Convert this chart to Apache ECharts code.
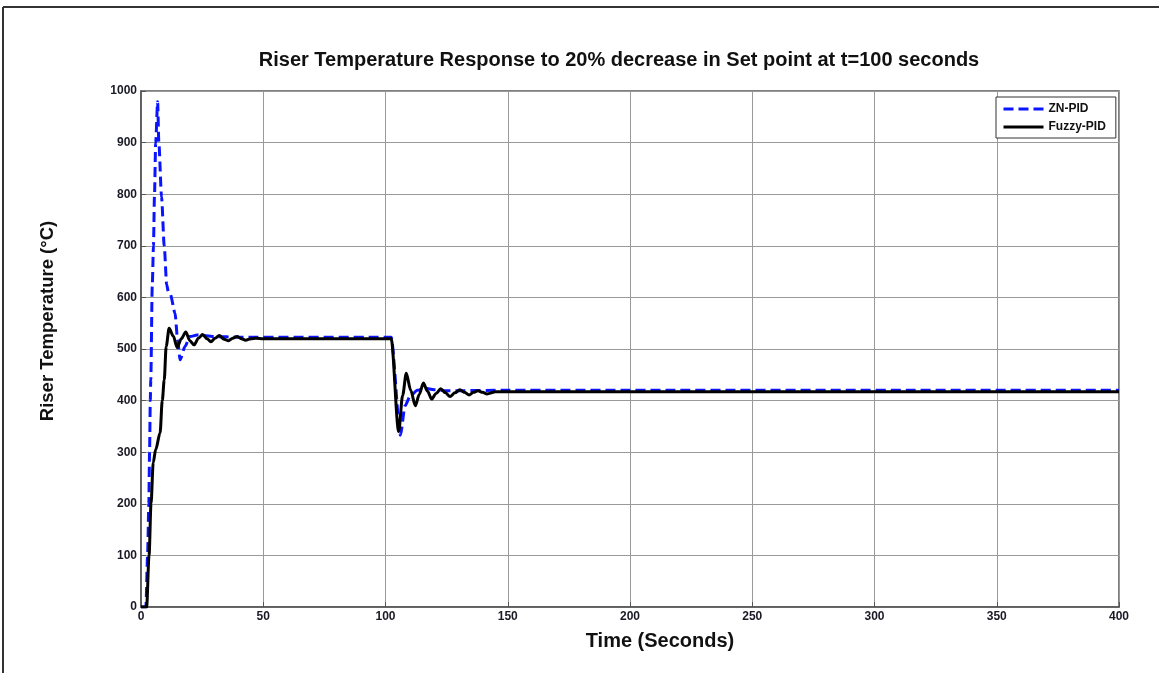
<!DOCTYPE html>
<html>
<head>
<meta charset="utf-8">
<script src="https://cdn.jsdelivr.net/npm/echarts@6/dist/echarts.min.js"></script>
<style>
html,body{margin:0;padding:0;background:#fff;}
#chart{width:1159px;height:673px;}
</style>
</head>
<body>
<div id="chart"></div>
<script>
// ---- data ----
const titleText = 'Riser Temperature Response to 20% decrease in Set point at t=100 seconds';
const xName = 'Time (Seconds)';
const yName = 'Riser Temperature (\u00B0C)';
const seriesNames = ['ZN-PID', 'Fuzzy-PID'];
const xTicks = [0, 50, 100, 150, 200, 250, 300, 350, 400];
const yTicks = [0, 100, 200, 300, 400, 500, 600, 700, 800, 900, 1000];

const znT = [0, 2.0, 2.7, 3.2, 3.5, 3.8, 4.0, 4.6, 5.1, 5.5, 6.0, 6.8, 7.3, 8.4, 9.5, 10.5, 11.2, 12.0, 13.9, 15.0, 16.0, 18.0, 20.0, 23, 30, 40, 100, 102.3, 106.1, 108, 110, 113, 116, 120, 125, 150, 400];
const znV = [0, 0, 100, 200, 300, 400, 440, 621, 700, 795, 899, 979, 899, 795, 700, 625, 610, 606, 570, 517, 479, 505, 524, 527, 524, 523, 523, 523, 333, 390, 408, 420, 424, 421, 419, 420, 420];

const fzT = [0, 2.3, 3.3, 4.1, 5.0, 6.0, 7.8, 8.7, 9.5, 10.3, 11.5, 13.2, 14.8, 16.5, 18.3, 20, 21.7, 23.5, 25.2, 27, 28.6, 30.3, 32, 34, 35.8, 37.5, 39.3, 41, 42.8, 45, 47, 50, 60, 100, 102.3, 105.4, 107, 108.5, 110.3, 112.2, 113.8, 115.5, 117.2, 118.9, 120.7, 122.6, 124.5, 126.4, 128.4, 130.4, 132.3, 134.2, 136, 137.8, 139.7, 141.5, 145, 150, 400];
const fzV = [0, 0, 100, 200, 280, 305, 337, 400, 440, 505, 540, 525, 503, 520, 533, 516, 508, 521, 528, 520, 514, 521, 526, 519, 516, 521, 524, 520, 517, 520, 521, 520, 520, 520, 520, 340, 410, 453, 420, 390, 412, 434, 418, 403, 414, 423, 415, 408, 415, 421, 416, 411, 416, 419, 416, 413, 417, 417, 417];

const zip = (a, b) => a.map((v, i) => [v, b[i]]);

const chart = echarts.init(document.getElementById('chart'));
const labelFont = {fontFamily: 'Liberation Sans, Arial, sans-serif', fontWeight: 'bold', fontSize: 12, color: '#1a1a26'};
chart.setOption({
  animation: false,
  backgroundColor: '#fff',
  grid: {left: 141, right: 40, top: 91, bottom: 66, show: true, borderColor: '#555', borderWidth: 1.5, backgroundColor: 'transparent'},
  xAxis: {
    type: 'value', min: xTicks[0], max: xTicks[xTicks.length - 1], interval: 50,
    axisLine: {show: true, onZero: false, lineStyle: {color: '#555', width: 1.5}},
    axisTick: {show: true, inside: true, length: 5, lineStyle: {color: '#555'}},
    axisLabel: Object.assign({margin: 4, formatter: v => String(v)}, labelFont),
    splitLine: {show: true, lineStyle: {color: '#999', width: 1}}
  },
  yAxis: {
    type: 'value', min: yTicks[0], max: yTicks[yTicks.length - 1], interval: 100,
    axisLine: {show: true, onZero: false, lineStyle: {color: '#555', width: 1.5}},
    axisTick: {show: true, inside: true, length: 5, lineStyle: {color: '#555'}},
    axisLabel: Object.assign({margin: 4, formatter: v => String(v)}, labelFont),
    splitLine: {show: true, lineStyle: {color: '#999', width: 1}}
  },
  legend: {
    data: seriesNames,
    orient: 'vertical', left: 996, top: 97,
    itemWidth: 40, itemHeight: 10, itemGap: 6,
    padding: [6, 10, 5, 6],
    itemStyle: {opacity: 0},
    lineStyle: {width: 3},
    borderColor: '#333', borderWidth: 1, backgroundColor: '#fff',
    textStyle: {fontFamily: 'Liberation Sans, Arial, sans-serif', fontWeight: 'bold', fontSize: 12, color: '#111'}
  },
  graphic: [
    {type: 'line', shape: {x1: 3, y1: 7, x2: 1159, y2: 7}, style: {stroke: '#333', lineWidth: 2}},
    {type: 'line', shape: {x1: 3, y1: 7, x2: 3, y2: 673}, style: {stroke: '#333', lineWidth: 2}},
    {type: 'text', x: 619, y: 60, style: {text: titleText, textAlign: 'center', textVerticalAlign: 'middle', font: 'bold 20px "Liberation Sans", Arial, sans-serif', fill: '#111'}},
    {type: 'text', x: 660, y: 641, style: {text: xName, textAlign: 'center', textVerticalAlign: 'middle', font: 'bold 20px "Liberation Sans", Arial, sans-serif', fill: '#111'}},
    {type: 'text', x: 48, y: 321, rotation: Math.PI / 2, style: {text: yName, textAlign: 'center', textVerticalAlign: 'middle', font: 'bold 18.5px "Liberation Sans", Arial, sans-serif', fill: '#111'}}
  ],
  series: [
    {name: seriesNames[0], type: 'line', data: zip(znT, znV), symbol: 'none', smooth: 0.25, smoothMonotone: 'x',
     itemStyle: {color: '#0a14ff'}, lineStyle: {color: '#0a14ff', width: 3, type: [10, 5]}, z: 2},
    {name: seriesNames[1], type: 'line', data: zip(fzT, fzV), symbol: 'none', smooth: 0.3, smoothMonotone: 'x',
     itemStyle: {color: '#000'}, lineStyle: {color: '#000', width: 3}, z: 3}
  ]
});
</script>
</body>
</html>
